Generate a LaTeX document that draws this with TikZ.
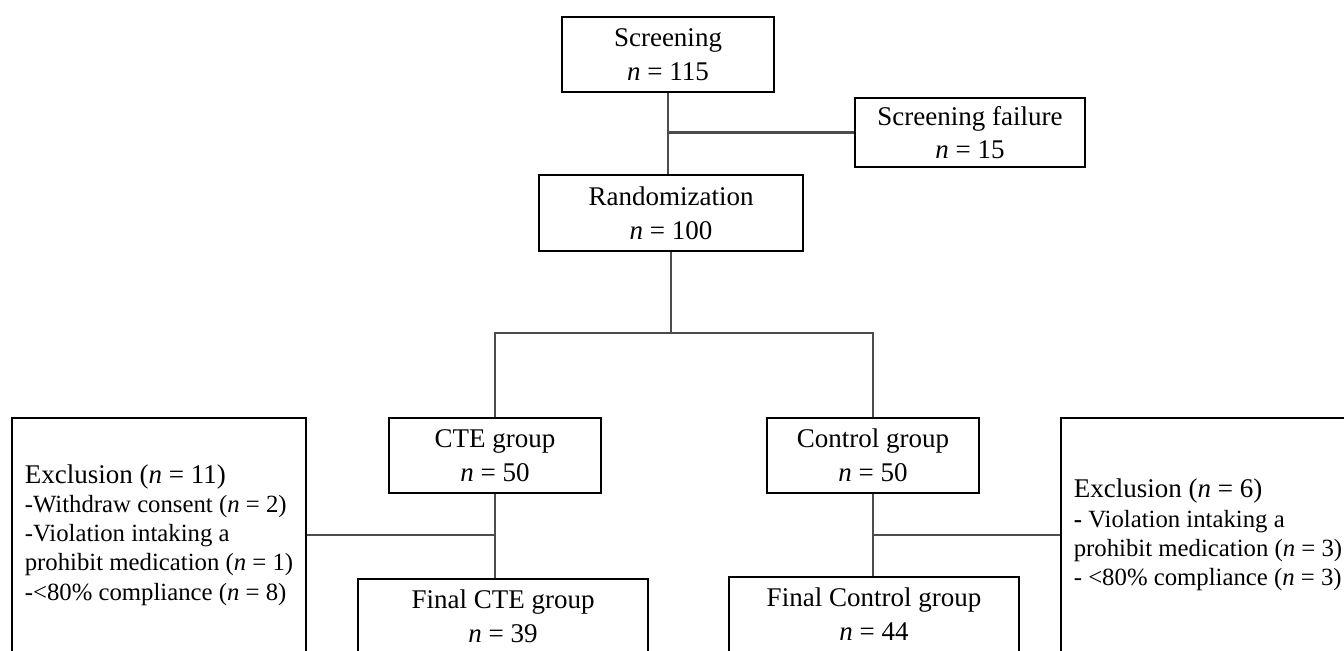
\documentclass[tikz,border=0pt]{standalone}
\usepackage{fontspec}
\setmainfont{Liberation Serif}
\newcommand{\nval}{\textit{n}}

\begin{document}
\begin{tikzpicture}[x=0.4444pt, y=-0.4444pt,
    box/.style={draw, line width=0.8pt, align=center, inner sep=0pt, font=\fontsize{12}{15}\selectfont},
    exbox/.style={draw, line width=0.8pt, align=left, inner sep=0pt, minimum width=130.7pt, minimum height=104pt, font=\fontsize{11}{13}\selectfont},
    link/.style={black!70, line width=1pt}]
    \useasboundingbox (0,0) rectangle (1344,650);
    \clip (0,0) rectangle (1344,650);
    % boxes
    \node[box, minimum width=94.2pt, minimum height=33.3pt] (scr) at (668,54.5) {Screening\\\nval{} = 115};
    \node[box, minimum width=102.2pt, minimum height=30.7pt] (fail) at (970,132.5) {Screening failure\\\nval{} = 15};
    \node[box, minimum width=117.3pt, minimum height=33.8pt] (rand) at (671,213) {Randomization\\\nval{} = 100};
    \node[box, minimum width=94.2pt, minimum height=33.3pt] (cte) at (495,455.5) {CTE group\\\nval{} = 50};
    \node[box, minimum width=94.2pt, minimum height=33.3pt] (ctl) at (873,455.5) {Control group\\\nval{} = 50};
    \node[box, minimum width=128.9pt, minimum height=33.3pt] (fcte) at (503,616.5) {Final CTE group\\\nval{} = 39};
    \node[box, minimum width=128.9pt, minimum height=33.3pt] (fctl) at (874,614.5) {Final Control group\\\nval{} = 44};
    \node[exbox] (exL) at (159,535) {{\fontsize{12}{14}\selectfont Exclusion (\nval{} = 11)}\\-Withdraw consent (\nval{} = 2)\\-Violation intaking a\\prohibit medication (\nval{} = 1)\\-<80\% compliance (\nval{} = 8)};
    \node[exbox] (exR) at (1208,535) {{\fontsize{12}{14}\selectfont Exclusion (\nval{} = 6)}\\\textbf{-} Violation intaking a\\prohibit medication (\nval{} = 3)\\- <80\% compliance (\nval{} = 3)};
    % connectors
    \coordinate (j1) at (scr.south |- fail.west);
    \coordinate (j2) at (671,333);
    \draw[link] (scr.south) -- (scr.south |- rand.north);
    \draw[link] (j1) -- (fail.west);
    \draw[link] (rand.south) -- (j2);
    \draw[link] (cte.north) |- (j2) -| (ctl.north);
    \draw[link] (cte.south) -- (cte.south |- fcte.north);
    \draw[link] (exL.east) -- (cte.south |- exL.east);
    \draw[link] (ctl.south) -- (ctl.south |- fctl.north);
    \draw[link] (exR.west) -- (ctl.south |- exR.west);
\end{tikzpicture}
\end{document}
